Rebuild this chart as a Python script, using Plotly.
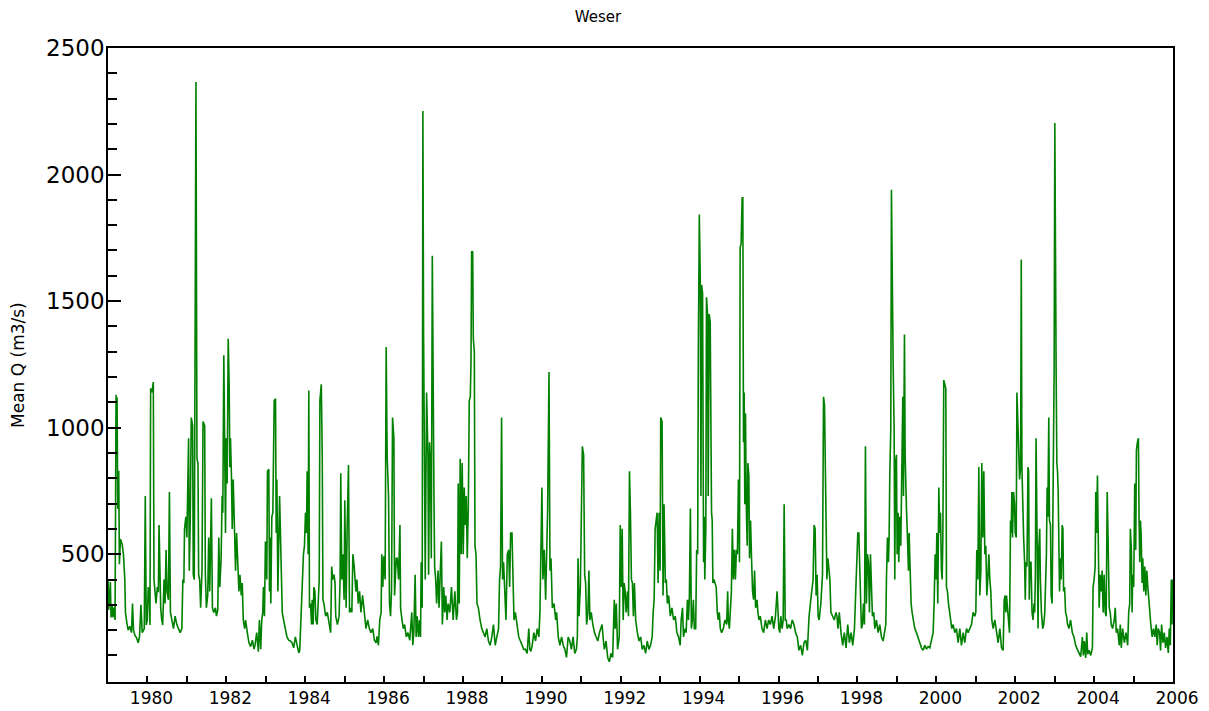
import plotly.graph_objects as go

# ---- Weser mean daily discharge ----
# time in decimal years, discharge in m3/s
t_1979_1982 = [
    1979.000, 1979.017, 1979.043, 1979.060, 1979.077, 1979.102, 1979.128, 1979.153, 1979.179, 1979.187,
    1979.204, 1979.213, 1979.230, 1979.247, 1979.272, 1979.289, 1979.315, 1979.357, 1979.391, 1979.426,
    1979.443, 1979.477, 1979.511, 1979.553, 1979.596, 1979.621, 1979.647, 1979.681, 1979.723, 1979.766,
    1979.800, 1979.834, 1979.868, 1979.919, 1979.945, 1979.970, 1979.996,
    1980.021, 1980.047, 1980.064, 1980.081, 1980.115, 1980.149, 1980.166, 1980.191, 1980.217, 1980.251,
    1980.277, 1980.294, 1980.311, 1980.336, 1980.362, 1980.387, 1980.421, 1980.447, 1980.472, 1980.498,
    1980.532, 1980.557, 1980.583, 1980.617, 1980.660, 1980.702, 1980.745, 1980.787, 1980.830, 1980.872,
    1980.898, 1980.923, 1980.940, 1980.974,
    1981.000, 1981.043, 1981.060, 1981.085, 1981.111, 1981.145, 1981.162, 1981.187, 1981.204, 1981.230,
    1981.255, 1981.281, 1981.298, 1981.323, 1981.349, 1981.383, 1981.409, 1981.451, 1981.468, 1981.494,
    1981.528, 1981.553, 1981.579, 1981.621, 1981.647, 1981.681, 1981.723, 1981.749, 1981.783, 1981.809,
    1981.834, 1981.868, 1981.894, 1981.911, 1981.936, 1981.962, 1981.979, 1981.996,
    1982.021, 1982.047, 1982.072, 1982.089, 1982.106, 1982.132, 1982.149, 1982.174, 1982.200, 1982.234,
    1982.260, 1982.285, 1982.319, 1982.345, 1982.379, 1982.404, 1982.430, 1982.464, 1982.489, 1982.532,
    1982.574, 1982.617, 1982.660, 1982.702,
]
q_1979_1982 = [
    400, 280, 340, 390, 250, 300, 250, 290, 240, 1110,
    1130, 890, 1120, 680, 830, 460, 560, 540, 500, 400,
    270, 230, 200, 215, 190, 305, 200, 180, 170, 150,
    175, 300, 190, 205, 730, 220, 240,
    370, 340, 220, 1155, 1140, 1180, 400, 337, 305, 370,
    350, 615, 435, 288, 240, 220, 400, 305, 517, 350,
    320, 746, 270, 240, 206, 255, 222, 206, 190, 206,
    400, 386, 600, 648,
    566, 958, 435, 633, 1040, 1008, 419, 400, 1744, 2366,
    877, 860, 419, 400, 288, 435, 1024, 1008, 419, 288,
    337, 566, 353, 721, 288, 270, 288, 255, 280, 566,
    370, 484, 731, 664, 1286, 860, 584, 958,
    779, 1351, 1171, 844, 958, 795, 600, 795, 584, 435,
    584, 451, 353, 419, 337, 386, 240, 206, 240, 190,
    150, 135, 160, 125,
]

t_1983_1986 = [
    1982.727, 1982.770, 1982.812, 1982.838, 1982.872, 1982.898, 1982.923, 1982.940, 1982.966, 1982.991,
    1983.026, 1983.043, 1983.077, 1983.094, 1983.111, 1983.128, 1983.153, 1983.179, 1983.213, 1983.247,
    1983.264, 1983.281, 1983.307, 1983.350, 1983.384, 1983.418, 1983.452, 1983.494, 1983.537, 1983.580,
    1983.622, 1983.665, 1983.708, 1983.750, 1983.793, 1983.836, 1983.861, 1983.895, 1983.929, 1983.955,
    1983.981,
    1984.006, 1984.032, 1984.049, 1984.074, 1984.091, 1984.108, 1984.134, 1984.160, 1984.176, 1984.202,
    1984.219, 1984.245, 1984.270, 1984.304, 1984.330, 1984.355, 1984.372, 1984.407, 1984.432, 1984.449,
    1984.475, 1984.517, 1984.560, 1984.586, 1984.620, 1984.645, 1984.671, 1984.697, 1984.731, 1984.756,
    1984.773, 1984.816, 1984.859, 1984.884, 1984.901, 1984.927, 1984.952, 1984.986,
    1985.003, 1985.037, 1985.063, 1985.097, 1985.123, 1985.157, 1985.182, 1985.208, 1985.242, 1985.285,
    1985.310, 1985.344, 1985.378, 1985.413, 1985.455, 1985.498, 1985.540, 1985.583, 1985.626, 1985.668,
    1985.711, 1985.754, 1985.796, 1985.822, 1985.856, 1985.890, 1985.924, 1985.941, 1985.967, 1985.992,
    1986.026, 1986.052, 1986.077, 1986.112, 1986.137, 1986.163, 1986.188, 1986.214, 1986.248, 1986.265,
    1986.308, 1986.333, 1986.367, 1986.401, 1986.418, 1986.453, 1986.487, 1986.521, 1986.563, 1986.606,
    1986.650,
]
q_1983_1986 = [
    140, 190, 115, 240, 125, 240, 270, 370, 255, 550,
    400, 828, 836, 353, 566, 305, 648, 664, 1106, 1114,
    584, 795, 353, 730, 419, 270, 240, 206, 173, 160,
    157, 150, 130, 173, 140, 110, 120, 288, 400, 500,
    533,
    664, 584, 828, 500, 1147, 288, 305, 222, 320, 222,
    370, 353, 240, 222, 320, 400, 1106, 1171, 893, 320,
    305, 255, 270, 240, 222, 190, 451, 400, 419, 386,
    255, 222, 255, 400, 820, 400, 500, 320,
    713, 288, 600, 852, 270, 288, 270, 500, 451, 353,
    400, 305, 353, 270, 337, 255, 206, 240, 206, 190,
    206, 160, 150, 175, 140, 240, 270, 500, 370, 492,
    400, 1319, 893, 730, 305, 255, 353, 1040, 958, 337,
    484, 484, 400, 615, 288, 240, 206, 222, 173, 190,
    160,
]

t_1987_1990 = [
    1986.702, 1986.727, 1986.753, 1986.787, 1986.812, 1986.838, 1986.872, 1986.898, 1986.923, 1986.940,
    1986.966, 1986.983,
    1987.000, 1987.026, 1987.043, 1987.077, 1987.111, 1987.128, 1987.153, 1987.179, 1987.196, 1987.222,
    1987.247, 1987.264, 1987.281, 1987.307, 1987.332, 1987.367, 1987.392, 1987.418, 1987.452, 1987.477,
    1987.512, 1987.537, 1987.563, 1987.597, 1987.622, 1987.665, 1987.708, 1987.750, 1987.793, 1987.835,
    1987.861, 1987.878, 1987.904, 1987.929, 1987.955, 1987.980,
    1988.006, 1988.032, 1988.057, 1988.083, 1988.108, 1988.134, 1988.159, 1988.185, 1988.202, 1988.219,
    1988.245, 1988.262, 1988.287, 1988.304, 1988.330, 1988.355, 1988.390, 1988.432, 1988.475, 1988.517,
    1988.560, 1988.603, 1988.645, 1988.688, 1988.731, 1988.773, 1988.816, 1988.858, 1988.901, 1988.927,
    1988.952, 1988.978,
    1989.003, 1989.029, 1989.055, 1989.089, 1989.123, 1989.157, 1989.182, 1989.208, 1989.242, 1989.268,
    1989.293, 1989.327, 1989.370, 1989.413, 1989.455, 1989.498, 1989.540, 1989.583, 1989.626, 1989.668,
    1989.694, 1989.720, 1989.754, 1989.796, 1989.839, 1989.881, 1989.924, 1989.950, 1989.975,
    1990.001, 1990.026, 1990.060, 1990.095, 1990.120, 1990.146, 1990.180, 1990.205, 1990.231, 1990.265,
    1990.308, 1990.350,
]
q_1987_1990 = [
    270, 140, 190, 419, 173, 255, 173, 240, 173, 468,
    288, 2251,
    1384, 893, 400, 1139, 893, 419, 942, 828, 484, 1679,
    893, 730, 451, 400, 305, 435, 288, 419, 550, 222,
    370, 270, 337, 240, 305, 270, 370, 240, 353, 240,
    270, 779, 305, 877, 500, 860,
    500, 763, 615, 730, 484, 680, 1106, 1122, 1253, 1695,
    1695, 1351, 1302, 533, 500, 305, 288, 240, 206, 190,
    173, 206, 157, 140, 173, 222, 140, 173, 206, 400,
    451, 1040,
    400, 468, 337, 240, 500, 517, 370, 584, 584, 386,
    240, 270, 222, 173, 157, 140, 124, 124, 108, 206,
    124, 116, 140, 190, 157, 206, 173, 270, 451,
    763, 400, 517, 320, 566, 680, 1220, 435, 484, 288,
    305, 240,
]

t_1991_1994 = [
    1990.373, 1990.415, 1990.457, 1990.499, 1990.541, 1990.582, 1990.624, 1990.666, 1990.708, 1990.749,
    1990.791, 1990.833, 1990.875, 1990.900, 1990.916, 1990.942, 1990.975,
    1991.000, 1991.025, 1991.058, 1991.084, 1991.109, 1991.134, 1991.167, 1991.192, 1991.217, 1991.251,
    1991.292, 1991.334, 1991.376, 1991.418, 1991.459, 1991.501, 1991.526, 1991.560, 1991.585, 1991.627,
    1991.668, 1991.710, 1991.752, 1991.794, 1991.835, 1991.860, 1991.886, 1991.919, 1991.961, 1991.986,
    1992.011, 1992.036, 1992.061, 1992.086, 1992.111, 1992.136, 1992.170, 1992.195, 1992.220, 1992.245,
    1992.270, 1992.295, 1992.320, 1992.345, 1992.378, 1992.420, 1992.462, 1992.504, 1992.545, 1992.587,
    1992.629, 1992.671, 1992.713, 1992.754, 1992.796, 1992.821, 1992.846, 1992.871, 1992.896, 1992.921,
    1992.946, 1992.972, 1992.997,
    1993.013, 1993.047, 1993.072, 1993.097, 1993.130, 1993.155, 1993.180, 1993.214, 1993.256, 1993.297,
    1993.339, 1993.381, 1993.423, 1993.464, 1993.506, 1993.531, 1993.565, 1993.590, 1993.631, 1993.657,
    1993.690, 1993.715, 1993.740, 1993.765, 1993.790, 1993.815, 1993.840, 1993.865, 1993.899, 1993.924,
    1993.949, 1993.966, 1993.991,
    1994.016, 1994.032, 1994.049, 1994.074, 1994.099, 1994.115,
]
q_1991_1994 = [
    270, 173, 140, 173, 140, 124, 92, 173, 157, 124,
    173, 108, 124, 173, 484, 255, 370,
    730, 926, 893, 419, 386, 222, 270, 435, 240, 270,
    222, 190, 173, 157, 190, 206, 222, 157, 124, 157,
    92, 75, 108, 92, 320, 206, 305, 124, 173, 615,
    370, 600, 240, 386, 353, 270, 353, 255, 828, 664,
    400, 386, 255, 386, 240, 190, 157, 173, 124, 140,
    108, 157, 124, 140, 173, 270, 320, 600, 633, 664,
    386, 664, 435,
    1040, 1024, 337, 697, 386, 400, 305, 337, 255, 288,
    240, 255, 190, 173, 140, 240, 288, 173, 206, 190,
    320, 240, 337, 680, 206, 240, 320, 206, 206, 517,
    500, 1302, 1842,
    1580, 730, 1564, 1531, 468, 648,
]

t_1994_1997 = [
    1994.130, 1994.156, 1994.173, 1994.199, 1994.216, 1994.241, 1994.267, 1994.284, 1994.301, 1994.318,
    1994.335, 1994.361, 1994.386, 1994.420, 1994.446, 1994.471, 1994.497, 1994.523, 1994.557, 1994.599,
    1994.642, 1994.685, 1994.710, 1994.727, 1994.753, 1994.778, 1994.804, 1994.829, 1994.855, 1994.881,
    1994.906, 1994.932, 1994.957, 1994.983,
    1995.009, 1995.026, 1995.051, 1995.077, 1995.094, 1995.111, 1995.128, 1995.145, 1995.162, 1995.179,
    1995.205, 1995.222, 1995.247, 1995.264, 1995.290, 1995.315, 1995.341, 1995.367, 1995.392, 1995.418,
    1995.452, 1995.477, 1995.503, 1995.537, 1995.580, 1995.622, 1995.665, 1995.708, 1995.750, 1995.793,
    1995.835, 1995.878, 1995.921, 1995.963, 1995.989,
    1996.006, 1996.032, 1996.057, 1996.091, 1996.117, 1996.142, 1996.168, 1996.194, 1996.219, 1996.262,
    1996.304, 1996.347, 1996.390, 1996.432, 1996.475, 1996.517, 1996.560, 1996.603, 1996.645, 1996.688,
    1996.731, 1996.773, 1996.816, 1996.841, 1996.876, 1996.901, 1996.927, 1996.952, 1996.978,
    1997.003, 1997.029, 1997.072, 1997.114, 1997.140, 1997.165, 1997.182, 1997.199, 1997.225, 1997.251,
    1997.276, 1997.302, 1997.327, 1997.370, 1997.413, 1997.455, 1997.481, 1997.506, 1997.540, 1997.583,
    1997.626, 1997.668, 1997.711, 1997.754, 1997.796, 1997.839, 1997.881, 1997.924, 1997.967, 1997.992,
]
q_1994_1997 = [
    400, 600, 1515, 1449, 730, 1449, 1417, 730, 664, 633,
    386, 400, 386, 370, 270, 240, 270, 206, 190, 206,
    240, 222, 353, 240, 206, 288, 353, 600, 400, 517,
    400, 517, 500, 795,
    468, 1711, 1728, 1908, 1908, 942, 1139, 697, 1057, 713,
    533, 860, 811, 484, 633, 484, 353, 320, 435, 288,
    320, 270, 240, 255, 206, 190, 240, 206, 240, 222,
    255, 206, 255, 353, 240,
    206, 190, 255, 206, 240, 697, 240, 240, 206, 222,
    206, 240, 222, 190, 173, 120, 140, 100, 150, 160,
    120, 255, 305, 353, 400, 615, 600, 337, 419,
    255, 240, 305, 419, 1122, 1089, 893, 500, 400, 484,
    451, 400, 270, 255, 240, 270, 255, 206, 270, 190,
    140, 190, 130, 222, 150, 190, 140, 206, 400, 500,
]

t_1998_2001 = [
    1998.009, 1998.035, 1998.076, 1998.101, 1998.127, 1998.152, 1998.178, 1998.203, 1998.228, 1998.254,
    1998.279, 1998.304, 1998.330, 1998.355, 1998.380, 1998.414, 1998.440, 1998.482, 1998.524, 1998.566,
    1998.609, 1998.651, 1998.693, 1998.719, 1998.735, 1998.761, 1998.786, 1998.803, 1998.820, 1998.845,
    1998.862, 1998.879, 1998.905, 1998.930, 1998.947, 1998.964, 1998.989,
    1999.006, 1999.031, 1999.048, 1999.074, 1999.099, 1999.124, 1999.150, 1999.167, 1999.192, 1999.209,
    1999.226, 1999.243, 1999.268, 1999.293, 1999.310, 1999.336, 1999.361, 1999.386, 1999.412, 1999.454,
    1999.496, 1999.538, 1999.581, 1999.623, 1999.665, 1999.708, 1999.750, 1999.792, 1999.834, 1999.877,
    1999.919, 1999.944, 1999.970, 1999.995,
    2000.012, 2000.037, 2000.063, 2000.088, 2000.105, 2000.130, 2000.147, 2000.164, 2000.189, 2000.215,
    2000.240, 2000.257, 2000.282, 2000.308, 2000.342, 2000.367, 2000.392, 2000.426, 2000.468, 2000.511,
    2000.553, 2000.595, 2000.637, 2000.680, 2000.722, 2000.764, 2000.806, 2000.849, 2000.891, 2000.933,
    2000.976,
    2001.001, 2001.026, 2001.052, 2001.077, 2001.102, 2001.128, 2001.153, 2001.178, 2001.204, 2001.229,
    2001.254, 2001.280, 2001.305, 2001.331, 2001.356, 2001.381, 2001.407, 2001.440, 2001.483, 2001.525,
    2001.567, 2001.610, 2001.652, 2001.694, 2001.720, 2001.745, 2001.762, 2001.779, 2001.804, 2001.830,
    2001.855,
]
q_1998_2001 = [
    584, 584, 400, 206, 222, 305, 222, 926, 305, 500,
    468, 270, 500, 370, 255, 270, 206, 240, 190, 222,
    173, 157, 190, 222, 400, 566, 468, 566, 811, 993,
    1940, 1515, 1253, 993, 400, 860, 893,
    500, 664, 468, 648, 533, 795, 1122, 730, 1368, 893,
    746, 680, 566, 435, 584, 400, 305, 270, 240, 206,
    190, 173, 150, 130, 120, 140, 125, 135, 130, 160,
    190, 305, 500, 400,
    584, 305, 763, 584, 664, 435, 400, 550, 1188, 1171,
    1155, 370, 353, 305, 270, 240, 206, 222, 190, 206,
    150, 206, 140, 190, 150, 206, 190, 206, 222, 270,
    255,
    270, 517, 400, 844, 337, 435, 860, 566, 828, 500,
    533, 337, 400, 500, 400, 353, 240, 206, 240, 190,
    150, 206, 130, 120, 320, 337, 270, 337, 288, 222,
    190,
]

t_2002_2005 = [
    2001.881, 2001.898, 2001.915, 2001.932, 2001.957, 2001.983,
    2002.000, 2002.026, 2002.043, 2002.068, 2002.085, 2002.111, 2002.136, 2002.153, 2002.170, 2002.196,
    2002.213, 2002.238, 2002.255, 2002.272, 2002.298, 2002.323, 2002.340, 2002.357, 2002.374, 2002.400,
    2002.426, 2002.451, 2002.477, 2002.494, 2002.511, 2002.528, 2002.553, 2002.579, 2002.596, 2002.621,
    2002.638, 2002.664, 2002.698, 2002.723, 2002.749, 2002.766, 2002.791, 2002.809, 2002.826, 2002.851,
    2002.868, 2002.894, 2002.911, 2002.936, 2002.962, 2002.987,
    2003.004, 2003.021, 2003.038, 2003.055, 2003.072, 2003.089, 2003.106, 2003.123, 2003.149, 2003.166,
    2003.191, 2003.209, 2003.226, 2003.251, 2003.277, 2003.302, 2003.328, 2003.362, 2003.404, 2003.447,
    2003.489, 2003.532, 2003.574, 2003.617, 2003.660, 2003.702, 2003.728, 2003.753, 2003.787, 2003.813,
    2003.838, 2003.872, 2003.915, 2003.957, 2003.974,
    2004.000, 2004.026, 2004.043, 2004.060, 2004.085, 2004.111, 2004.128, 2004.153, 2004.179, 2004.204,
    2004.230, 2004.255, 2004.281, 2004.306, 2004.332, 2004.357, 2004.383, 2004.409, 2004.434, 2004.468,
    2004.511, 2004.536, 2004.562, 2004.596, 2004.638, 2004.664, 2004.689, 2004.723, 2004.766, 2004.809,
    2004.851, 2004.877, 2004.902, 2004.919, 2004.945, 2004.962, 2004.979,
    2005.004, 2005.030, 2005.055, 2005.072, 2005.098, 2005.123, 2005.140, 2005.157, 2005.174, 2005.191,
    2005.217, 2005.234, 2005.260, 2005.285, 2005.311, 2005.336, 2005.362, 2005.387, 2005.413, 2005.438,
    2005.472, 2005.506, 2005.540, 2005.574, 2005.600, 2005.626, 2005.660, 2005.685, 2005.711, 2005.745,
    2005.779, 2005.813, 2005.847, 2005.881, 2005.906, 2005.932, 2005.957, 2005.974, 2005.991, 2006.000,
]
q_2002_2005 = [
    633, 584, 746, 566, 746, 697,
    584, 566, 1139, 1024, 893, 795, 844, 1664, 844, 600,
    566, 468, 320, 468, 451, 844, 828, 320, 468, 468,
    270, 240, 305, 270, 419, 958, 648, 206, 517, 600,
    400, 270, 206, 222, 270, 337, 500, 763, 648, 1040,
    633, 615, 337, 305, 730, 1237,
    2204, 1237, 1204, 860, 828, 746, 500, 353, 484, 400,
    615, 600, 353, 370, 270, 255, 222, 206, 240, 190,
    173, 140, 124, 110, 95, 173, 100, 157, 90, 190,
    105, 120, 100, 130, 370,
    400, 451, 746, 584, 811, 566, 288, 419, 353, 435,
    270, 419, 270, 255, 746, 533, 288, 270, 222, 206,
    240, 288, 190, 206, 140, 222, 130, 206, 150, 190,
    140, 270, 305, 600, 517, 270, 419,
    370, 779, 517, 910, 942, 958, 633, 468, 633, 584,
    386, 484, 353, 451, 337, 435, 370, 305, 270, 222,
    173, 206, 173, 222, 140, 206, 190, 120, 222, 150,
    190, 130, 173, 110, 206, 140, 400, 222, 400, 386,
]

# axis tick values / labels
y_tick_values = [500, 1000, 1500, 2000, 2500]
y_minor_values = [v for v in range(100, 2500, 100) if v % 500 != 0]
x_tick_years = list(range(1979, 2007))
x_tick_labels = [str(y) if y % 2 == 0 and y > 1979 else "" for y in x_tick_years]

years = (t_1979_1982 + t_1983_1986 + t_1987_1990 + t_1991_1994
         + t_1994_1997 + t_1998_2001 + t_2002_2005)
flow = (q_1979_1982 + q_1983_1986 + q_1987_1990 + q_1991_1994
        + q_1994_1997 + q_1998_2001 + q_2002_2005)

fig = go.Figure(
    go.Scatter(
        x=years, y=flow, mode="lines",
        line=dict(color="rgb(0,128,0)", width=1.6),
        showlegend=False,
    )
)

FONT = "DejaVu Sans"

fig.update_layout(
    width=1209, height=711,
    margin=dict(l=108, r=36, t=48, b=29),
    paper_bgcolor="white", plot_bgcolor="white",
    title=dict(text="Weser", x=598 / 1209, xanchor="center", xref="container",
               y=1 - 17 / 711, yanchor="middle", yref="container",
               font=dict(family=FONT, size=15, color="black")),
    xaxis=dict(
        range=[1979, 2006], tickmode="array", tickvals=x_tick_years, ticktext=x_tick_labels,
        ticks="inside", ticklen=6, tickwidth=1.5, tickcolor="black",
        showline=True, linecolor="black", linewidth=1.5, mirror=True,
        showgrid=False, zeroline=False, ticklabelshift=4, automargin=False,
        tickfont=dict(family=FONT, size=17, color="black"),
    ),
    yaxis=dict(
        range=[-5, 2500], tickmode="array", tickvals=y_tick_values,
        ticks="inside", ticklen=13, tickwidth=1.5, tickcolor="black",
        minor=dict(tickmode="array", tickvals=y_minor_values, ticks="inside", ticklen=9,
                   tickwidth=1.5, tickcolor="black", showgrid=False),
        showline=True, linecolor="black", linewidth=1.5, mirror=True,
        showgrid=False, zeroline=False, automargin=False, ticklabelstandoff=-3,
        tickfont=dict(family=FONT, size=23, color="black"),
    ),
    annotations=[dict(
        text="Mean Q (m3/s)", textangle=-90, showarrow=False,
        xref="paper", yref="paper", x=(18 - 108) / 1065, y=0.5,
        xanchor="center", yanchor="middle",
        font=dict(family=FONT, size=17, color="black"),
    )],
)

fig.write_html("out.html")
